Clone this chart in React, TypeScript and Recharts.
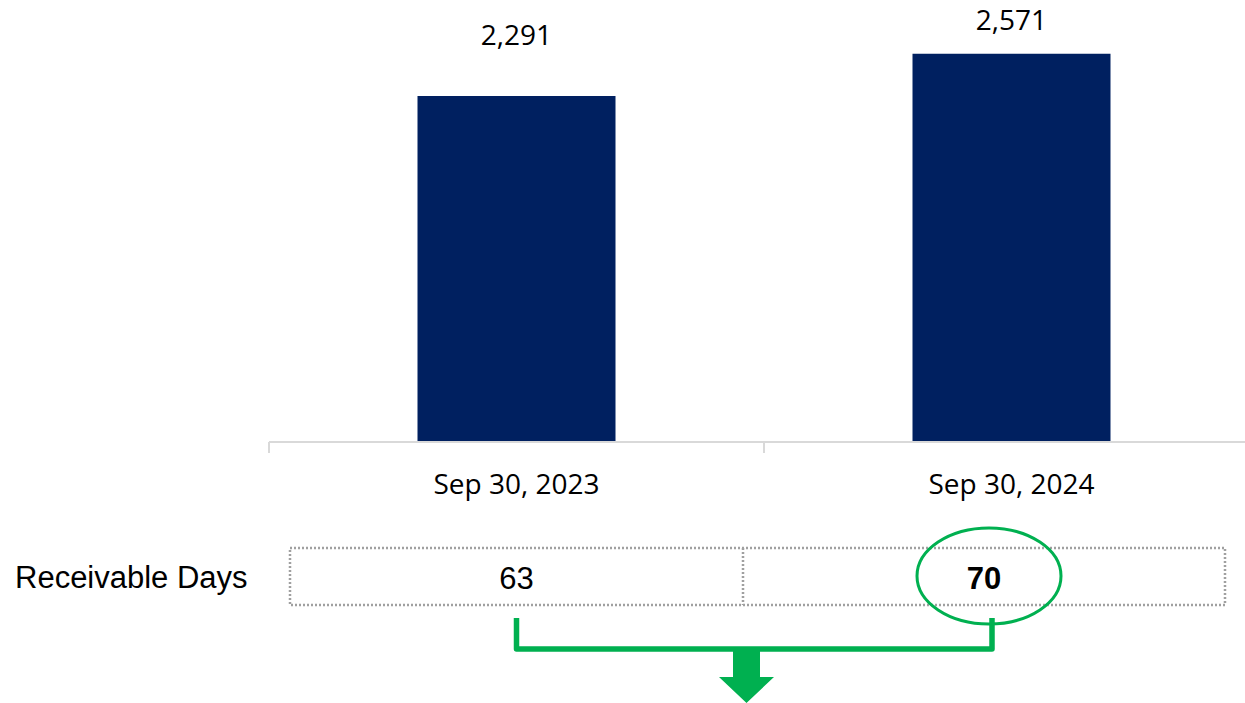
import React from 'react';
import { BarChart, Bar, XAxis, YAxis, LabelList } from 'recharts';

// ---- data ----
const categories = ['Sep 30, 2023', 'Sep 30, 2024'];
const receivables = [2291, 2571];
const receivableDays = [63, 70];
const highlightedIndex = 1;
const rowLabel = 'Receivable Days';
const yDomain = [0, 2900];

const data = categories.map((c, i) => ({ name: c, value: receivables[i] }));

// ---- layout ----
const W = 1245;
const H = 703;
const CHART_W = 1260;
const X_AXIS_H = 30;
const MARGIN = { top: 4, right: 1, bottom: 261 - X_AXIS_H, left: 269 };
const PLOT_W = CHART_W - MARGIN.left - MARGIN.right;
const BAND = PLOT_W / categories.length;

const NAVY = '#002060';
const GREEN = '#00B050';
const AXIS = '#d9d9d9';
const LABEL_FONT = '"Open Sans", sans-serif';
const ARIAL = '"Liberation Sans", Arial, sans-serif';

const fmt = (v: number) => v.toLocaleString('en-US');

const AxisTick = (props: any) => {
  const { x, y, payload, index } = props;
  const last = index === categories.length - 1;
  return (
    <g>
      <line x1={x - BAND / 2} x2={x - BAND / 2} y1={y} y2={y + 11} stroke={AXIS} strokeWidth={2} />
      {last && <line x1={x + BAND / 2} x2={x + BAND / 2} y1={y} y2={y + 11} stroke={AXIS} strokeWidth={2} />}
      <text x={x} y={y + 52} textAnchor="middle" fontFamily={LABEL_FONT} fontSize={28} fill="#000">
        {payload.value}
      </text>
    </g>
  );
};

const ValueLabel = (props: any) => {
  const { x, y, width, value } = props;
  const ty = Math.max(y - 51, 30);
  return (
    <text x={x + width / 2} y={ty} textAnchor="middle" fontFamily={LABEL_FONT} fontSize={28} fill="#000">
      {fmt(value)}
    </text>
  );
};

// table layout
const TABLE = { x0: 290, x1: 1225, top: 548, bottom: 605 };
const cellEdges = [290, 743, 1225];

export default function App() {
  const cellCenters = receivableDays.map((_, i) => (cellEdges[i] + cellEdges[i + 1]) / 2);
  const hc = cellCenters[highlightedIndex];
  const baseY = 589;
  return (
    <div style={{ position: 'absolute', left: 0, top: 0, width: W, height: H, overflow: 'hidden', background: '#fff' }}>
      <BarChart width={CHART_W} height={H} data={data} margin={MARGIN} barCategoryGap="30%">
        <YAxis hide domain={yDomain} />
        <XAxis
          dataKey="name"
          interval={0}
          height={X_AXIS_H}
          axisLine={{ stroke: AXIS, strokeWidth: 2 }}
          tickLine={false}
          tickSize={0}
          tickMargin={0}
          tick={AxisTick}
        />
        <Bar dataKey="value" fill={NAVY} isAnimationActive={false}>
          <LabelList dataKey="value" content={ValueLabel} />
        </Bar>
      </BarChart>
      <svg width={W} height={H} style={{ position: 'absolute', left: 0, top: 0, pointerEvents: 'none' }}>
        <text x={15} y={588} fontFamily={ARIAL} fontSize={31} fill="#000">{rowLabel}</text>
        <rect
          x={TABLE.x0}
          y={TABLE.top}
          width={TABLE.x1 - TABLE.x0}
          height={TABLE.bottom - TABLE.top}
          fill="none"
          stroke="#a0a0a0"
          strokeWidth={2.5}
          strokeDasharray="2 2"
        />
        <line x1={cellEdges[1]} x2={cellEdges[1]} y1={TABLE.top} y2={TABLE.bottom} stroke="#a0a0a0" strokeWidth={2.5} strokeDasharray="2 2" />
        {receivableDays.map((d, i) => (
          <text
            key={i}
            x={cellCenters[i]}
            y={baseY}
            textAnchor="middle"
            fontFamily={ARIAL}
            fontSize={31}
            fontWeight={i === highlightedIndex ? 'bold' : 'normal'}
            fill="#000"
          >
            {d}
          </text>
        ))}
        <ellipse cx={hc + 5} cy={576} rx={72} ry={48} fill="none" stroke={GREEN} strokeWidth={3} />
        <path
          d={`M${cellCenters[0]} 618 V649 H${hc + 8} V618`}
          fill="none"
          stroke={GREEN}
          strokeWidth={5.5}
          strokeLinejoin="round"
        />
        <polygon points="733,647 760,647 760,677 774,677 746.5,703 719,677 733,677" fill={GREEN} />
      </svg>
    </div>
  );
}
